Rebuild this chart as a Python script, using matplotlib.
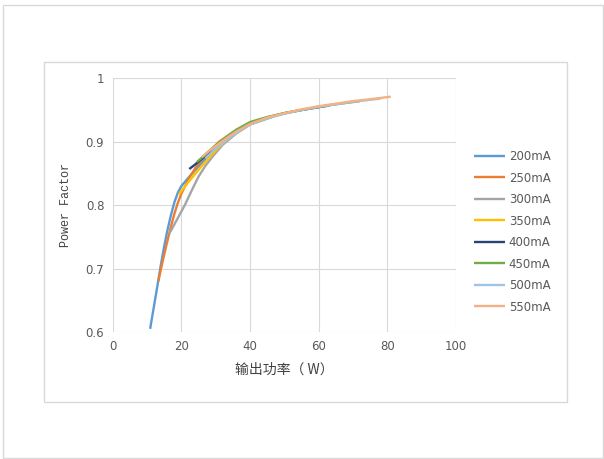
import matplotlib
matplotlib.use("Agg")
import matplotlib.pyplot as plt
from matplotlib.patches import Rectangle

series_names = ["200mA", "250mA", "300mA", "350mA", "400mA", "450mA", "500mA", "550mA"]
colors = ["#5B9BD5", "#ED7D31", "#A5A5A5", "#FFC000", "#264478", "#70AD47", "#9DC3E6", "#F4B183"]

x_200 = [10.9, 12, 13, 14, 15, 16, 17, 18, 19, 20, 22, 24, 27, 30, 33]
y_200 = [0.605, 0.64, 0.672, 0.705, 0.735, 0.762, 0.785, 0.805, 0.82, 0.83, 0.843, 0.855, 0.873, 0.89, 0.904]
x_250 = [13.3, 14, 15, 16, 17, 18, 19, 20, 22, 24, 27, 31, 35, 40]
y_250 = [0.68, 0.698, 0.722, 0.745, 0.767, 0.787, 0.804, 0.818, 0.84, 0.858, 0.879, 0.90, 0.915, 0.929]
x_300 = [16.5, 17, 19, 21, 23, 25, 27, 29, 32, 36, 40, 47]
y_300 = [0.756, 0.76, 0.78, 0.80, 0.823, 0.845, 0.862, 0.876, 0.895, 0.913, 0.927, 0.940]
x_350 = [19.3, 20, 22, 24, 26, 28, 31, 35, 40, 45, 50, 55]
y_350 = [0.817, 0.822, 0.836, 0.849, 0.862, 0.874, 0.892, 0.912, 0.928, 0.938, 0.945, 0.950]
x_400 = [22.3, 24, 26, 28, 31, 35, 40, 45, 50, 55, 63]
y_400 = [0.857, 0.864, 0.873, 0.882, 0.896, 0.914, 0.929, 0.938, 0.945, 0.950, 0.957]
x_450 = [24.5, 26, 28, 30, 33, 36, 40, 45, 50, 55, 60, 65, 72]
y_450 = [0.868, 0.875, 0.885, 0.894, 0.907, 0.919, 0.931, 0.939, 0.945, 0.950, 0.955, 0.959, 0.964]
x_500 = [27, 30, 33, 36, 40, 45, 50, 55, 60, 65, 70, 78]
y_500 = [0.874, 0.889, 0.902, 0.914, 0.927, 0.937, 0.944, 0.950, 0.955, 0.959, 0.963, 0.968]
x_550 = [26, 28, 30, 33, 36, 40, 45, 50, 55, 60, 65, 70, 75, 81]
y_550 = [0.876, 0.885, 0.893, 0.905, 0.916, 0.928, 0.938, 0.945, 0.951, 0.956, 0.960, 0.964, 0.967, 0.971]

xs = [x_200, x_250, x_300, x_350, x_400, x_450, x_500, x_550]
ys = [y_200, y_250, y_300, y_350, y_400, y_450, y_500, y_550]

x_ticks = [0, 20, 40, 60, 80, 100]
y_ticks = [0.6, 0.7, 0.8, 0.9, 1.0]
y_tick_labels = ["0.6", "0.7", "0.8", "0.9", "1"]

fig = plt.figure(figsize=(6.04, 4.59), dpi=100)
fig.patch.set_facecolor("white")

# outer frame and chart-area frame
fig.patches.append(Rectangle((3 / 604, 1 - 458 / 459), 600 / 604, 453 / 459,
                             transform=fig.transFigure, fill=False,
                             edgecolor="#D9D9D9", linewidth=1.0))
fig.patches.append(Rectangle((44 / 604, 1 - 402 / 459), 523 / 604, 340 / 459,
                             transform=fig.transFigure, fill=False,
                             edgecolor="#D9D9D9", linewidth=1.0))

ax = fig.add_axes([112.7 / 604, 1 - 332 / 459, (456 - 112.7) / 604, (332 - 78.3) / 459])
for name, c, x, y in zip(series_names, colors, xs, ys):
    ax.plot(x, y, color=c, linewidth=1.7, label=name, solid_capstyle="butt",
            solid_joinstyle="round")

ax.set_xlim(0, 100)
ax.set_ylim(0.6, 1.0)
ax.set_xticks(x_ticks)
ax.set_yticks(y_ticks)
ax.set_yticklabels(y_tick_labels)
ax.grid(True, color="#D9D9D9", linewidth=0.8)
ax.set_axisbelow(True)
for s in ax.spines.values():
    s.set_visible(False)
ax.tick_params(length=0, labelsize=8.5, labelcolor="#595959", pad=6)

ax.set_xlabel("输出功率（ W）", family=["Noto Sans CJK SC", "DejaVu Sans"],
              fontsize=10, color="#404040", labelpad=7)
ax.set_ylabel("Power Factor", family=["Liberation Mono", "DejaVu Sans Mono"],
              fontsize=8.5, color="#404040", labelpad=10)

leg = ax.legend(loc="center left", bbox_to_anchor=(1.04, 0.395), frameon=False,
                fontsize=8.5, handlelength=2.6, handletextpad=0.3,
                labelspacing=0.72, borderaxespad=0)
for t in leg.get_texts():
    t.set_color("#595959")

fig.savefig("out.png", dpi=100, facecolor="white")
